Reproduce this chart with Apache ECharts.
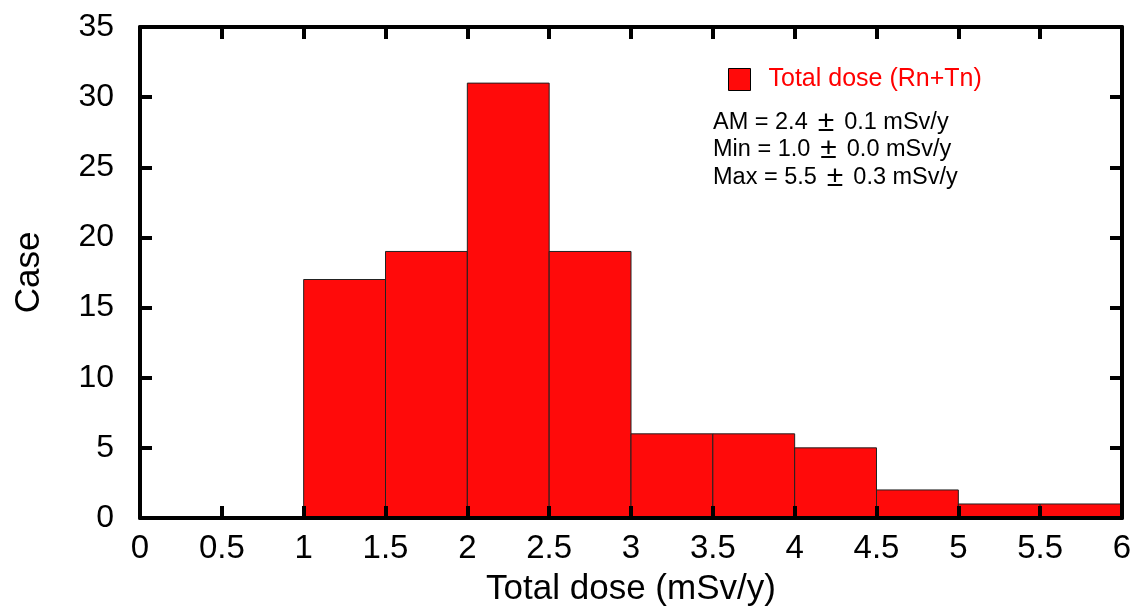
<!DOCTYPE html>
<html>
<head>
<meta charset="utf-8">
<script src="https://cdn.jsdelivr.net/npm/echarts@6/dist/echarts.min.js"></script>
<style>html,body{margin:0;padding:0;background:#fff}#c{width:1135px;height:613px}</style>
</head>
<body>
<div id="c"></div>
<script>
const binStart = [1.0, 1.5, 2.0, 2.5, 3.0, 3.5, 4.0, 4.5, 5.0, 5.5];
const binEnd   = [1.5, 2.0, 2.5, 3.0, 3.5, 4.0, 4.5, 5.0, 5.5, 6.0];
const counts   = [17, 19, 31, 19, 6, 6, 5, 2, 1, 1];
const seriesName = 'Total dose (Rn+Tn)';
const statLines = ['AM = 2.4 \u00B1 0.1 mSv/y', 'Min = 1.0 \u00B1 0.0 mSv/y', 'Max = 5.5 \u00B1 0.3 mSv/y'];
const xTitle = 'Total dose (mSv/y)';
const yTitle = 'Case';

const FONT = 'Liberation Sans, Arial, sans-serif';
const data = binStart.map((s, i) => [s, binEnd[i], counts[i]]);
const chart = echarts.init(document.getElementById('c'), null, {renderer: 'canvas'});

function frame() {
  return {
    z: 10,
    axisLine: {show: true, onZero: false, lineStyle: {color: '#000', width: 4}},
    axisTick: {show: true, inside: true, length: 12, lineStyle: {color: '#000', width: 4}},
    splitLine: {show: false}
  };
}

function richLine(t) {
  const parts = t.split('\u00B1');
  return '{n|' + parts[0].trimEnd() + '}{pm|\u00B1}{n|' + parts[1].trimStart() + '}';
}

chart.setOption({
  animation: false,
  grid: {left: 140, right: 13, top: 27, bottom: 95},
  legend: {
    left: 723, top: 62,
    itemWidth: 22, itemHeight: 22,
    data: [{name: seriesName, icon: 'rect', itemStyle: {color: '#ff0a0a', borderColor: '#000', borderWidth: 1}}],
    textStyle: {color: '#ff0000', fontSize: 25, fontFamily: FONT, padding: [0, 0, 0, 13]}
  },
  xAxis: [
    Object.assign({type: 'value', min: 0, max: 6, interval: 0.5, position: 'bottom',
      axisLabel: {color: '#000', fontSize: 33, fontFamily: FONT, margin: 14},
      name: xTitle, nameLocation: 'middle', nameGap: 54,
      nameTextStyle: {color: '#000', fontSize: 35, fontFamily: FONT}}, frame()),
    Object.assign({type: 'value', min: 0, max: 6, interval: 0.5, position: 'top',
      axisLabel: {show: false}}, frame())
  ],
  yAxis: [
    Object.assign({type: 'value', min: 0, max: 35, interval: 5, position: 'left',
      axisLabel: {color: '#000', fontSize: 32, fontFamily: FONT, margin: 26},
      name: yTitle, nameLocation: 'middle', nameGap: 93,
      nameTextStyle: {color: '#000', fontSize: 35, fontFamily: FONT}}, frame()),
    Object.assign({type: 'value', min: 0, max: 35, interval: 5, position: 'right',
      axisLabel: {show: false}}, frame())
  ],
  graphic: statLines.map((t, i) => ({
    type: 'text', x: 713, y: 122.5 + i * 27.5, z: 20,
    style: {
      text: richLine(t),
      verticalAlign: 'middle',
      rich: {
        n: {fontSize: 23.5, fontFamily: FONT, fill: '#000', verticalAlign: 'middle'},
        pm: {fontSize: 30, fontFamily: FONT, fill: '#000', padding: [0, 10, 0, 10], verticalAlign: 'middle'}
      }
    }
  })),
  series: [{
    type: 'custom',
    name: seriesName,
    xAxisIndex: 0, yAxisIndex: 0,
    z: -1,
    itemStyle: {color: '#ff0a0a'},
    renderItem: function (params, api) {
      const p0 = api.coord([api.value(0), api.value(2)]);
      const p1 = api.coord([api.value(1), 0]);
      return {
        type: 'rect',
        shape: {x: p0[0], y: p0[1], width: p1[0] - p0[0], height: p1[1] - p0[1]},
        style: {fill: '#ff0a0a', stroke: '#222', lineWidth: 1}
      };
    },
    encode: {x: [0, 1], y: 2},
    data: data
  }]
});
</script>
</body>
</html>
